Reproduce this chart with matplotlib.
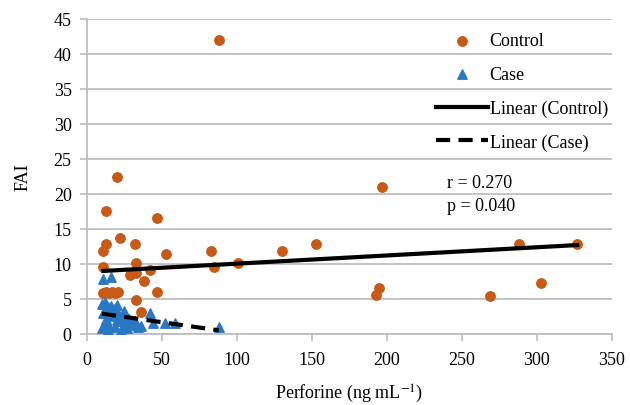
import numpy as np
import matplotlib
matplotlib.use("Agg")
import matplotlib.pyplot as plt

# values
control_x = [88, 197, 327, 288, 303, 269, 195, 193, 153, 130, 101, 83, 85,
             47, 53, 47, 20, 13, 13, 11, 22, 32, 33, 11, 42, 29, 33, 38,
             11, 13, 15, 17, 19, 21, 33, 36]
control_y = [42, 21, 12.9, 12.9, 7.3, 5.4, 6.6, 5.6, 12.8, 11.8, 10.1, 11.9, 9.6,
             16.5, 11.4, 6.0, 22.4, 17.5, 12.9, 11.8, 13.7, 12.9, 10.1, 9.6, 9.2, 8.4, 8.7, 7.5,
             5.9, 6.0, 5.9, 6.0, 5.9, 6.0, 4.8, 3.2]

case_x = [11, 16, 10, 12, 14, 11, 13, 12, 10, 15, 17, 18, 20, 21, 22, 19, 23,
          24, 25, 26, 28, 30, 32, 34, 14, 20, 42, 44, 52, 59, 88, 16, 27, 36]
case_y = [7.9, 8.1, 4.3, 4.5, 3.8, 3.0, 2.2, 1.5, 0.8, 1.2, 2.6, 3.5, 4.2, 3.0, 1.8, 1.0, 0.6,
          2.4, 3.3, 1.5, 2.2, 1.3, 1.8, 1.0, 0.5, 2.0, 3.0, 1.6, 1.6, 1.6, 1.0, 4.0, 0.8, 1.2]

# linear trend lines (slope, intercept) as drawn in the figure
control_fit = [0.0117, 8.87]
case_fit = [-0.0305, 3.2]

x_ticks = [0, 50, 100, 150, 200, 250, 300, 350]
y_ticks = [0, 5, 10, 15, 20, 25, 30, 35, 40, 45]

plt.rcParams["font.family"] = ["Liberation Serif", "DejaVu Serif"]
plt.rcParams["mathtext.fontset"] = "stix"

orange = "#C65A16"
blue = "#2A78C4"
grid_c = "#BEBEBE"
fs = 13

fig = plt.figure(figsize=(6.30, 4.06), dpi=100)
ax = fig.add_axes([0.138, 0.175, 0.833, 0.776])

ax.scatter(control_x, control_y, s=46, marker="o", color=orange, label="Control", zorder=3)
ax.scatter(case_x, case_y, s=46, marker="^", color=blue, label="Case", zorder=3)

xc = np.array([min(control_x), max(control_x)])
ax.plot(xc, np.polyval(control_fit, xc), color="black", lw=3, label="Linear (Control)", zorder=4)
xk = np.array([min(case_x), max(case_x)])
ax.plot(xk, np.polyval(case_fit, xk), color="black", lw=3, ls=(0, (3.4, 2)),
        label="Linear (Case)", zorder=4)

ax.set_xlim(0, 350)
ax.set_ylim(0, 45)
ax.set_xticks(x_ticks)
ax.set_yticks(y_ticks)
ax.yaxis.grid(True, color=grid_c, lw=1.3)
ax.set_axisbelow(True)
for s in ["top", "right"]:
    ax.spines[s].set_visible(False)
for s in ["left", "bottom"]:
    ax.spines[s].set_color(grid_c)
    ax.spines[s].set_linewidth(1.3)
ax.tick_params(axis="both", colors=grid_c, labelcolor="black", labelsize=fs, length=5, width=1.2)
ax.tick_params(axis="x", pad=7)
ax.tick_params(axis="y", pad=6)

ax.set_xlabel("Perforine (ng mL$^{-1}$)", fontsize=fs, labelpad=10)
ax.set_ylabel("FAI", fontsize=fs, labelpad=16)

ax.text(240, 21.7, "r = 0.270", fontsize=fs, va="center", ha="left")
ax.text(240, 18.3, "p = 0.040", fontsize=fs, va="center", ha="left")

ax.legend(loc="upper left", bbox_to_anchor=(0.677, 0.94), bbox_transform=fig.transFigure,
          frameon=False, fontsize=fs, labelspacing=0.92, handlelength=2.9,
          handletextpad=0.1, borderpad=0)

fig.savefig("out.png", dpi=100)
